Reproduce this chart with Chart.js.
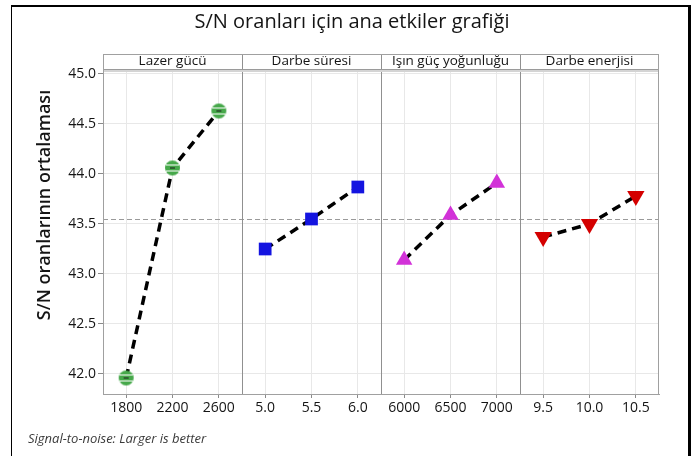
<!DOCTYPE html>
<html>
<head>
<meta charset="utf-8">
<script src="https://cdn.jsdelivr.net/npm/chart.js@4.4.1/dist/chart.umd.min.js"></script>
<style>
    html, body { margin: 0; padding: 0; background: #fff; }
    #wrap { position: relative; width: 694px; height: 456px; }
    #frame {
        position: absolute; left: 11px; top: 5px; width: 676px; height: 460px;
        border-left: 1px solid #000; border-top: 2px solid #000; border-right: 3px solid #000;
        pointer-events: none;
    }
</style>
</head>
<body>
<div id="wrap">
    <canvas id="mainEffects"></canvas>
    <div id="frame"></div>
</div>
<script>
const xLabels = ['1800', '2200', '2600', '5.0', '5.5', '6.0', '6000', '6500', '7000', '9.5', '10.0', '10.5'];
const panelNames = ['Lazer gücü', 'Darbe süresi', 'Işın güç yoğunluğu', 'Darbe enerjisi'];
const yTicks = [42.0, 42.5, 43.0, 43.5, 44.0, 44.5, 45.0];

const lazerGucu = [41.96, 44.06, 44.63];
const darbeSuresi = [43.25, 43.55, 43.87];
const isinGucYogunlugu = [43.14, 43.59, 43.91];
const darbeEnerjisi = [43.37, 43.50, 43.78];

const FONT = "'Open Sans', 'Noto Sans', sans-serif";
const TEXT = '#141414';

// grand mean of all factor levels
const allValues = [...lazerGucu, ...darbeSuresi, ...isinGucYogunlugu, ...darbeEnerjisi];
const grandMean = allValues.reduce((a, b) => a + b, 0) / allValues.length;

// green circle marker with white stripes (Minitab look)
function makeCircleMarker() {
    const c = document.createElement('canvas');
    c.width = 17; c.height = 17;
    const g = c.getContext('2d');
    g.fillStyle = '#46a84a';
    g.beginPath();
    g.arc(8.5, 8.5, 7.5, 0, Math.PI * 2);
    g.fill();
    g.fillStyle = '#ffffff';
    g.fillRect(2, 5, 13, 1);
    g.fillRect(2, 11, 13, 1);
    g.fillStyle = '#1a1a1a';
    g.fillRect(6, 8, 5, 1);
    return c;
}

function padPanel(values, panel) {
    const out = new Array(xLabels.length).fill(null);
    values.forEach((v, i) => { out[panel * 3 + i] = v; });
    return out;
}

const lineStyle = {
    borderColor: '#000',
    borderWidth: 3.5,
    borderDash: [9, 6],
    spanGaps: false,
    pointBorderWidth: 0
};

const panelPlugin = {
    id: 'panelPlugin',
    beforeDatasetsDraw(chart) {
        const { ctx, chartArea: a, scales: { x, y } } = chart;
        ctx.save();
        // mean reference line
        const my = Math.round(y.getPixelForValue(grandMean)) + 0.5;
        ctx.strokeStyle = '#9a9a9a';
        ctx.lineWidth = 1;
        ctx.setLineDash([5, 3]);
        ctx.beginPath();
        ctx.moveTo(a.left, my);
        ctx.lineTo(a.right, my);
        ctx.stroke();
        ctx.setLineDash([]);
        // panel separators
        ctx.strokeStyle = '#909090';
        for (let p = 1; p < panelNames.length; p++) {
            const px = Math.round(x.getPixelForValue(p * 3 - 0.5)) + 0.5;
            ctx.beginPath();
            ctx.moveTo(px, 54);
            ctx.lineTo(px, a.bottom);
            ctx.stroke();
        }
        ctx.restore();
    },
    afterDraw(chart) {
        const { ctx, chartArea: a, scales: { x } } = chart;
        ctx.save();
        // strip band
        ctx.fillStyle = '#d4d4d4';
        ctx.fillRect(a.left, 70, a.right - a.left, 2);
        ctx.strokeStyle = '#9a9a9a';
        ctx.lineWidth = 1;
        ctx.beginPath();
        ctx.moveTo(a.left, 69.5);
        ctx.lineTo(a.right, 69.5);
        ctx.stroke();
        // frame
        ctx.strokeStyle = '#a0a0a0';
        ctx.strokeRect(a.left + 0.5, 54.5, a.right - a.left - 1, a.bottom - 54);
        // strip labels
        ctx.fillStyle = TEXT;
        ctx.font = '500 13.5px ' + FONT;
        ctx.textAlign = 'center';
        ctx.textBaseline = 'middle';
        panelNames.forEach((name, p) => {
            const cx = x.getPixelForValue(p * 3 + 1);
            ctx.fillText(name, cx, 61.5);
        });
        // title
        ctx.font = '500 20px ' + FONT;
        ctx.fillText('S/N oranları için ana etkiler grafiği', 352, 22);
        // y title
        ctx.save();
        ctx.translate(45, 205);
        ctx.rotate(-Math.PI / 2);
        ctx.font = '600 18px ' + FONT;
        ctx.fillText('S/N oranlarının ortalaması', 0, 0);
        ctx.restore();
        // footer
        ctx.textAlign = 'left';
        ctx.font = 'italic 13px ' + FONT;
        ctx.fillStyle = '#3a3a3a';
        ctx.fillText('Signal-to-noise: Larger is better', 28, 439);
        ctx.restore();
    }
};

new Chart(document.getElementById('mainEffects'), {
    type: 'line',
    data: {
        labels: xLabels,
        datasets: [
            { ...lineStyle, label: panelNames[0], data: padPanel(lazerGucu, 0),
              pointStyle: makeCircleMarker(), pointRadius: 8 },
            { ...lineStyle, label: panelNames[1], data: padPanel(darbeSuresi, 1),
              pointStyle: 'rect', pointRadius: 9, pointBackgroundColor: '#1414e0' },
            { ...lineStyle, label: panelNames[2], data: padPanel(isinGucYogunlugu, 2),
              pointStyle: 'triangle', pointRadius: 9.5, pointBackgroundColor: '#d232d8' },
            { ...lineStyle, label: panelNames[3], data: padPanel(darbeEnerjisi, 3),
              pointStyle: 'triangle', pointRotation: 180, pointRadius: 10, pointBackgroundColor: '#d40000' }
        ]
    },
    options: {
        responsive: true,
        maintainAspectRatio: false,
        animation: false,
        layout: { padding: { top: 70, right: 35, left: 0, bottom: 0 } },
        plugins: {
            legend: { display: false },
            tooltip: { enabled: false }
        },
        scales: {
            x: {
                offset: true,
                afterFit: (s) => { s.height = 62; },
                grid: { color: '#e8e8e8', tickColor: '#8a8a8a', tickLength: 4 },
                border: { color: '#a0a0a0' },
                ticks: { color: TEXT, font: { family: FONT, size: 14, weight: 500 }, padding: 2, maxRotation: 0, autoSkip: false }
            },
            y: {
                min: 41.8,
                max: 45.04,
                afterFit: (s) => { s.width = 103; },
                afterBuildTicks: (s) => { s.ticks = yTicks.map(v => ({ value: v })); },
                grid: { color: '#e8e8e8', tickColor: '#8a8a8a', tickLength: 5 },
                border: { color: '#a0a0a0' },
                ticks: { color: TEXT, font: { family: FONT, size: 14, weight: 500 }, padding: 2,
                         callback: (v) => Number(v).toFixed(1) }
            }
        }
    },
    plugins: [panelPlugin]
});
</script>
</body>
</html>
